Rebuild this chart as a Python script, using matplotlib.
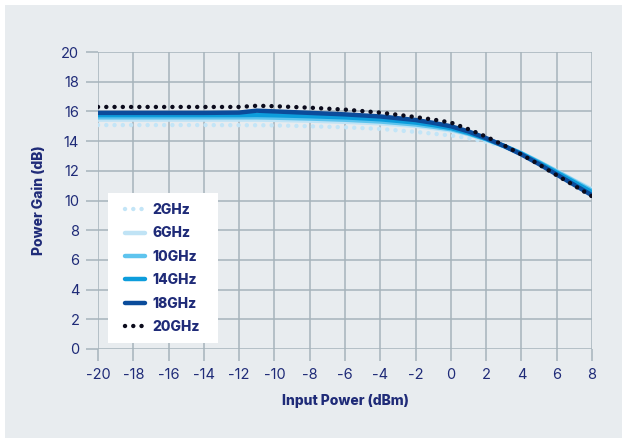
import matplotlib
matplotlib.use("Agg")
import matplotlib.pyplot as plt
from matplotlib.patches import Rectangle

x = [-20, -18, -16, -14, -12, -11, -10, -8, -6, -4, -2, -1, 0, 1, 2, 3, 4, 5, 6, 7, 8]
g2 = [15.08, 15.08, 15.08, 15.08, 15.07, 15.07, 15.06, 15.0, 14.93, 14.82, 14.62, 14.5, 14.38, 14.2, 13.95, 13.62, 13.18, 12.6, 11.98, 11.35, 10.75]
g6 = [15.45, 15.45, 15.45, 15.45, 15.45, 15.45, 15.43, 15.38, 15.3, 15.2, 15.02, 14.88, 14.72, 14.45, 14.08, 13.66, 13.18, 12.6, 11.98, 11.35, 10.75]
g10 = [15.6, 15.6, 15.6, 15.6, 15.6, 15.6, 15.58, 15.52, 15.44, 15.32, 15.12, 14.97, 14.8, 14.5, 14.12, 13.68, 13.18, 12.58, 11.95, 11.3, 10.65]
g14 = [15.75, 15.75, 15.75, 15.75, 15.75, 15.76, 15.74, 15.68, 15.6, 15.47, 15.25, 15.08, 14.88, 14.55, 14.15, 13.68, 13.15, 12.53, 11.88, 11.22, 10.55]
g18 = [15.9, 15.9, 15.9, 15.9, 15.92, 16.05, 16.0, 15.9, 15.8, 15.66, 15.42, 15.23, 15.0, 14.65, 14.2, 13.68, 13.1, 12.45, 11.75, 11.05, 10.35]
g20 = [16.3, 16.3, 16.3, 16.3, 16.3, 16.38, 16.35, 16.25, 16.12, 15.92, 15.62, 15.45, 15.25, 14.8, 14.3, 13.72, 13.1, 12.42, 11.7, 11.0, 10.28]
labels = ["2GHz", "6GHz", "10GHz", "14GHz", "18GHz", "20GHz"]
xticks = list(range(-20, 9, 2))
yticks = list(range(0, 21, 2))

TXT = "#1f2b78"
GRID = "#a6b3bb"
BG = "#e8ecef"

plt.rcParams['font.family'] = ['Inter', 'DejaVu Sans']

fig = plt.figure(figsize=(6.22, 4.38), dpi=100)
fig.patch.set_facecolor("white")
fig.patches.append(Rectangle((5/622, 0), 1, 1 - 5/438, transform=fig.transFigure,
                             facecolor=BG, edgecolor="none", zorder=-10))

AXW, AXH = 494, 297
ax = fig.add_axes([98/622, 1 - 349/438, AXW/622, AXH/438])
ax.set_facecolor(BG)

dot = (0, (0.01, 1.85))
series = [g2, g6, g10, g14, g18, g20]
styles = [
    dict(color="#c3e5f7", lw=3.2, ls=dot, dash_capstyle="round"),
    dict(color="#c0e3f5", lw=3.2, ls="-", solid_capstyle="round"),
    dict(color="#5ec4ee", lw=3.2, ls="-", solid_capstyle="round"),
    dict(color="#0d9ddc", lw=3.2, ls="-", solid_capstyle="round"),
    dict(color="#0b4c9b", lw=3.2, ls="-", solid_capstyle="round"),
    dict(color="#0b0b1c", lw=3.2, ls=dot, dash_capstyle="round"),
]
for ys, lab, st in zip(series, labels, styles):
    ax.plot(x, ys, label=lab, zorder=3, **st)

ax.set_xlim(-20, 8)
ax.set_ylim(0, 20)
ax.set_xticks(xticks)
ax.set_yticks(yticks)
ax.set_xticklabels([str(v) for v in xticks])
ax.grid(True, color=GRID, lw=1.1)
ax.set_axisbelow(True)
for s in ax.spines.values():
    s.set_visible(False)
ax.tick_params(axis="both", direction="out", length=8.5, width=1.1, color=GRID,
               labelcolor=TXT, labelsize=10.5, pad=5)

ax.set_xlabel("Input Power (dBm)", color=TXT, fontsize=10, fontweight="heavy", labelpad=9)
ax.set_ylabel("Power Gain (dB)", color=TXT, fontsize=10, fontweight="heavy", labelpad=11)

# white legend panel
ax.add_patch(Rectangle((10/AXW, 6/AXH), 110/AXW, 150/AXH, transform=ax.transAxes,
                       facecolor="white", edgecolor="none", zorder=4))

leg = ax.legend(loc="upper left", bbox_to_anchor=(27/AXW, (349-203)/AXH), frameon=False,
                prop=dict(size=10, weight="heavy"),
                handlelength=1.45, handletextpad=0.5, labelspacing=0.68, borderpad=0,
                borderaxespad=0)
leg.set_zorder(5)
for t in leg.get_texts():
    t.set_color(TXT)

fig.savefig("out.png", dpi=100, facecolor=fig.get_facecolor())
